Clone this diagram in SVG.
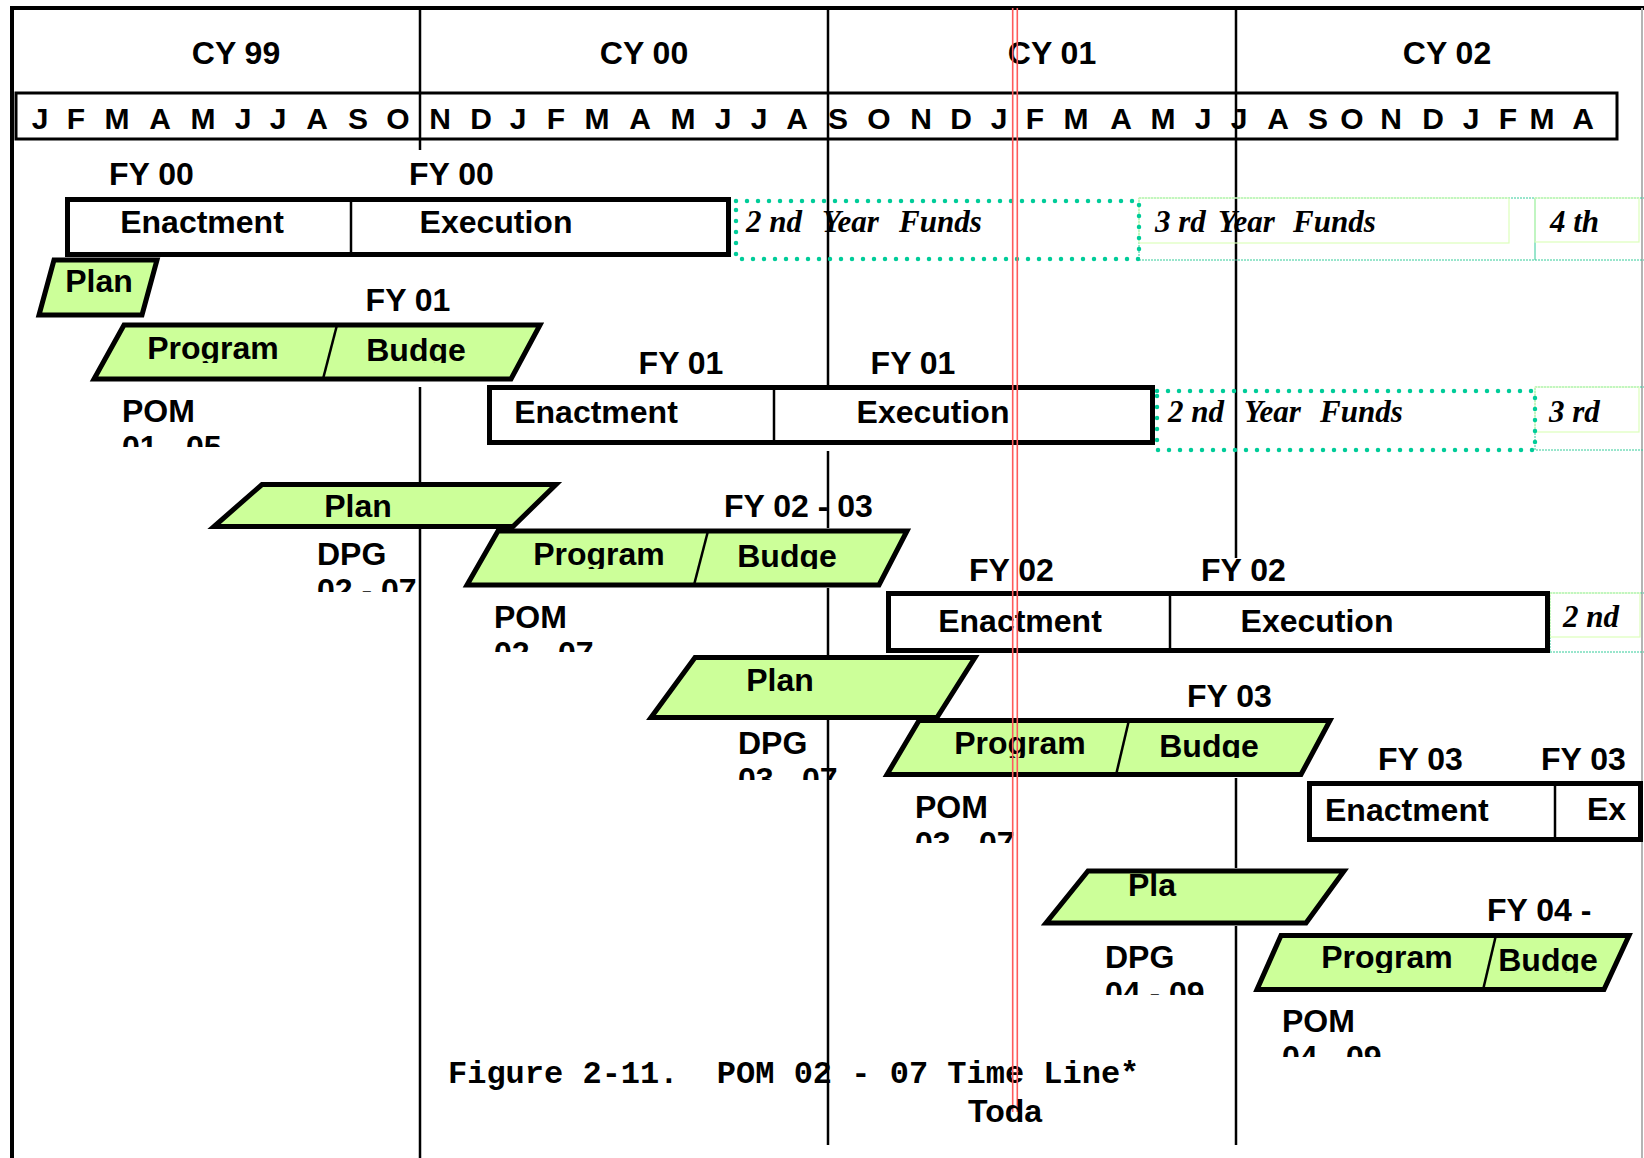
<svg xmlns="http://www.w3.org/2000/svg" width="1644" height="1158" viewBox="0 0 1644 1158">
<style>
.t{font-family:"Liberation Sans",Arial,sans-serif;font-weight:bold;font-size:32px;fill:#000}
.mo{font-size:30px}
.cy{font-size:32px}
.mid{text-anchor:middle}
.it{font-family:"Liberation Serif","Times New Roman",serif;font-weight:bold;font-style:italic;font-size:31px;fill:#000}
.cap{font-family:"Liberation Mono","Courier New",monospace;font-weight:bold;font-size:32px;fill:#000}
.box{fill:#fff;stroke:#000;stroke-width:5}
.para{fill:#ccff99;stroke:#000;stroke-width:5;stroke-linejoin:miter}
.div{stroke:#000;stroke-width:2.5}
.grid{stroke:#000;stroke-width:2.5}
.dots{fill:none;stroke:#00cc99;stroke-width:4.5;stroke-linecap:round;stroke-dasharray:0 11}
.thin{fill:none;stroke:#33cc99;stroke-width:1;stroke-dasharray:2 1}
.lg{fill:none;stroke:#ddffbb;stroke-width:1.2}
.red{stroke:#ff5b5b;stroke-width:1.6}
</style>
<defs>
<clipPath id="cP1"><rect x="0" y="313" width="1644" height="50"/></clipPath>
<clipPath id="cP2"><rect x="0" y="519" width="1644" height="50"/></clipPath>
<clipPath id="cP3"><rect x="0" y="708" width="1644" height="50"/></clipPath>
<clipPath id="cP4"><rect x="0" y="923" width="1644" height="50"/></clipPath>
<clipPath id="cM1"><rect x="100" y="390" width="200" height="57"/></clipPath>
<clipPath id="cD2"><rect x="300" y="535" width="200" height="57"/></clipPath>
<clipPath id="cM2"><rect x="480" y="598" width="200" height="54"/></clipPath>
<clipPath id="cD3"><rect x="720" y="724" width="200" height="56"/></clipPath>
<clipPath id="cM3"><rect x="900" y="788" width="200" height="55"/></clipPath>
<clipPath id="cD4"><rect x="1090" y="938" width="200" height="57"/></clipPath>
<clipPath id="cM4"><rect x="1270" y="1002" width="200" height="55"/></clipPath>
<clipPath id="cT"><rect x="950" y="1090" width="200" height="34"/></clipPath>
</defs>
<rect width="1644" height="1158" fill="#fff"/>

<g id="frame">
<line x1="10" y1="8" x2="1644" y2="8" stroke="#000" stroke-width="4"/>
<line x1="12" y1="6" x2="12" y2="1158" stroke="#000" stroke-width="4"/>
<line x1="1642" y1="8" x2="1642" y2="1158" stroke="#b4b4b4" stroke-width="2"/>
<rect x="16" y="93" width="1601" height="46" fill="none" stroke="#000" stroke-width="3"/>
</g>

<g id="connectors">
<line class="grid" x1="420" y1="8" x2="420" y2="150"/>
<line class="grid" x1="420" y1="387" x2="420" y2="482"/>
<line class="grid" x1="420" y1="529" x2="420" y2="1158"/>
<line class="grid" x1="828" y1="8" x2="828" y2="387"/>
<line class="grid" x1="828" y1="451" x2="828" y2="528"/>
<line class="grid" x1="828" y1="588" x2="828" y2="655"/>
<line class="grid" x1="828" y1="720" x2="828" y2="1145"/>
<line class="grid" x1="1236" y1="8" x2="1236" y2="558"/>
<line class="grid" x1="1236" y1="778" x2="1236" y2="868"/>
<line class="grid" x1="1236" y1="926" x2="1236" y2="1145"/>
</g>

<g id="header">
<text class="t cy mid" x="236" y="64">CY 99</text>
<text class="t cy mid" x="644" y="64">CY 00</text>
<text class="t cy mid" x="1052" y="64">CY 01</text>
<text class="t cy mid" x="1447" y="64">CY 02</text>
<g class="t mo mid">
<text x="40" y="129">J</text><text x="76" y="129">F</text><text x="117" y="129">M</text><text x="160" y="129">A</text><text x="203" y="129">M</text><text x="243" y="129">J</text><text x="278" y="129">J</text><text x="317" y="129">A</text><text x="358" y="129">S</text><text x="398" y="129">O</text>
<text x="440" y="129">N</text><text x="481" y="129">D</text><text x="518" y="129">J</text><text x="556" y="129">F</text><text x="597" y="129">M</text><text x="640" y="129">A</text><text x="683" y="129">M</text><text x="723" y="129">J</text><text x="759" y="129">J</text><text x="797" y="129">A</text>
<text x="838" y="129">S</text><text x="879" y="129">O</text><text x="921" y="129">N</text><text x="961" y="129">D</text><text x="999" y="129">J</text><text x="1035" y="129">F</text><text x="1076" y="129">M</text><text x="1121" y="129">A</text><text x="1163" y="129">M</text><text x="1203" y="129">J</text>
<text x="1239" y="129">J</text><text x="1278" y="129">A</text><text x="1318" y="129">S</text><text x="1352" y="129">O</text><text x="1391" y="129">N</text><text x="1433" y="129">D</text><text x="1471" y="129">J</text><text x="1508" y="129">F</text><text x="1542" y="129">M</text><text x="1583" y="129">A</text>
</g>
</g>

<g id="funds-row1">
<rect class="thin" x="1139" y="198" width="510" height="62"/>
<rect class="lg" x="1139" y="198" width="370" height="45"/>
<line x1="1535" y1="198" x2="1535" y2="260" stroke="#33cc99" stroke-width="1"/>
<rect class="lg" x="1535" y="198" width="104" height="44"/>
<rect class="dots" x="736" y="201" width="403" height="58"/>
<text class="it" y="232"><tspan x="746">2 nd</tspan><tspan x="822">Year</tspan><tspan x="899">Funds</tspan></text>
<text class="it" y="232"><tspan x="1155">3 rd</tspan><tspan x="1218">Year</tspan><tspan x="1293">Funds</tspan></text>
<text class="it" x="1550" y="232">4 th</text>
</g>

<g id="fy00">
<text class="t" x="109" y="185">FY 00</text>
<text class="t" x="409" y="185">FY 00</text>
<rect class="box" x="67.5" y="199.5" width="661" height="55"/>
<line class="div" x1="351" y1="199" x2="351" y2="255"/>
<text class="t mid" x="202" y="233">Enactment</text>
<text class="t mid" x="496" y="233">Execution</text>
</g>

<g id="plan1">
<polygon class="para" points="54,260 157,260 142,315 39,315"/>
<text class="t mid" x="99" y="292">Plan</text>
</g>

<g id="progbud1">
<text class="t mid" x="408" y="311">FY 01</text>
<polygon class="para" points="124,325 540,325 511,379 94,379"/>
<line class="div" x1="337" y1="325" x2="323" y2="379"/>
<g clip-path="url(#cP1)">
<text class="t mid" x="213" y="359">Program</text>
<text class="t mid" x="416" y="361">Budge</text>
</g>
<g clip-path="url(#cM1)">
<text class="t" x="122" y="422">POM</text>
<text class="t" x="122" y="458">01 - 05</text>
</g>
</g>

<g id="funds-row2">
<rect class="thin" x="1535" y="387" width="114" height="63"/>
<rect class="lg" x="1535" y="387" width="104" height="45"/>
<rect class="dots" x="1157" y="391" width="378" height="59"/>
<text class="it" y="422"><tspan x="1168">2 nd</tspan><tspan x="1244">Year</tspan><tspan x="1320">Funds</tspan></text>
<text class="it" x="1549" y="422">3 rd</text>
</g>

<g id="fy01">
<text class="t mid" x="681" y="374">FY 01</text>
<text class="t mid" x="913" y="374">FY 01</text>
<rect class="box" x="489.5" y="387.5" width="663" height="55"/>
<line class="div" x1="774" y1="387" x2="774" y2="443"/>
<text class="t mid" x="596" y="423">Enactment</text>
<text class="t mid" x="933" y="423">Execution</text>
</g>

<g id="plan2">
<polygon class="para" points="262,484.5 556,484.5 513,526.5 214,526.5"/>
<text class="t mid" x="358" y="517">Plan</text>
<g clip-path="url(#cD2)">
<text class="t" x="317" y="565">DPG</text>
<text class="t" x="317" y="601">02 - 07</text>
</g>
</g>

<g id="progbud2">
<text class="t" x="724" y="517">FY 02 - 03</text>
<polygon class="para" points="498,531 907,531 879,585 467,585"/>
<line class="div" x1="708" y1="531" x2="694" y2="585"/>
<g clip-path="url(#cP2)">
<text class="t mid" x="599" y="565">Program</text>
<text class="t mid" x="787" y="567">Budge</text>
</g>
<g clip-path="url(#cM2)">
<text class="t" x="494" y="628">POM</text>
<text class="t" x="494" y="664">02 - 07</text>
</g>
</g>

<g id="funds-row3">
<rect class="thin" x="1550" y="593" width="99" height="59"/>
<rect class="lg" x="1550" y="593" width="90" height="44"/>
<text class="it" x="1563" y="627">2 nd</text>
</g>

<g id="fy02">
<text class="t" x="969" y="581">FY 02</text>
<text class="t" x="1201" y="581">FY 02</text>
<rect class="box" x="888.5" y="593.5" width="659" height="57"/>
<line class="div" x1="1170" y1="593" x2="1170" y2="651"/>
<text class="t mid" x="1020" y="632">Enactment</text>
<text class="t mid" x="1317" y="632">Execution</text>
</g>

<g id="plan3">
<polygon class="para" points="695,657.5 975,657.5 937,717.5 651,717.5"/>
<text class="t mid" x="780" y="691">Plan</text>
<g clip-path="url(#cD3)">
<text class="t" x="738" y="754">DPG</text>
<text class="t" x="738" y="790">03 - 07</text>
</g>
</g>

<g id="progbud3">
<text class="t" x="1187" y="707">FY 03</text>
<polygon class="para" points="919,720.5 1330,720.5 1301,774.5 887,774.5"/>
<line class="div" x1="1129" y1="720" x2="1116" y2="775"/>
<g clip-path="url(#cP3)">
<text class="t mid" x="1020" y="754">Program</text>
<text class="t mid" x="1209" y="757">Budge</text>
</g>
<g clip-path="url(#cM3)">
<text class="t" x="915" y="818">POM</text>
<text class="t" x="915" y="854">03 - 07</text>
</g>
</g>

<g id="fy03">
<text class="t" x="1378" y="770">FY 03</text>
<text class="t" x="1541" y="770">FY 03</text>
<rect class="box" x="1309.5" y="783.5" width="331" height="56"/>
<line class="div" x1="1555" y1="783" x2="1555" y2="840"/>
<text class="t" x="1325" y="821">Enactment</text>
<text class="t" x="1587" y="820">Ex</text>
</g>

<g id="plan4">
<polygon class="para" points="1088,871 1344,871 1306,923 1046,923"/>
<text class="t" x="1128" y="896">Pla</text>
<g clip-path="url(#cD4)">
<text class="t" x="1105" y="968">DPG</text>
<text class="t" x="1105" y="1004">04 - 09</text>
</g>
</g>

<g id="progbud4">
<text class="t" x="1487" y="921">FY 04 -</text>
<polygon class="para" points="1281,935.5 1629,935.5 1604,989.5 1257,989.5"/>
<line class="div" x1="1496" y1="935" x2="1483" y2="990"/>
<g clip-path="url(#cP4)">
<text class="t mid" x="1387" y="968">Program</text>
<text class="t mid" x="1548" y="971">Budge</text>
</g>
<g clip-path="url(#cM4)">
<text class="t" x="1282" y="1032">POM</text>
<text class="t" x="1282" y="1068">04 - 09</text>
</g>
</g>

<g id="caption">
<text class="cap" x="448" y="1083" xml:space="preserve">Figure 2-11.  POM 02 - 07 Time Line*</text>
</g>

<g id="today">
<line class="red" x1="1012.7" y1="8" x2="1012.7" y2="1112"/>
<line class="red" x1="1017.3" y1="8" x2="1017.3" y2="1112"/>
<g clip-path="url(#cT)">
<text class="t" x="968" y="1122">Toda</text>
</g>
</g>
</svg>
